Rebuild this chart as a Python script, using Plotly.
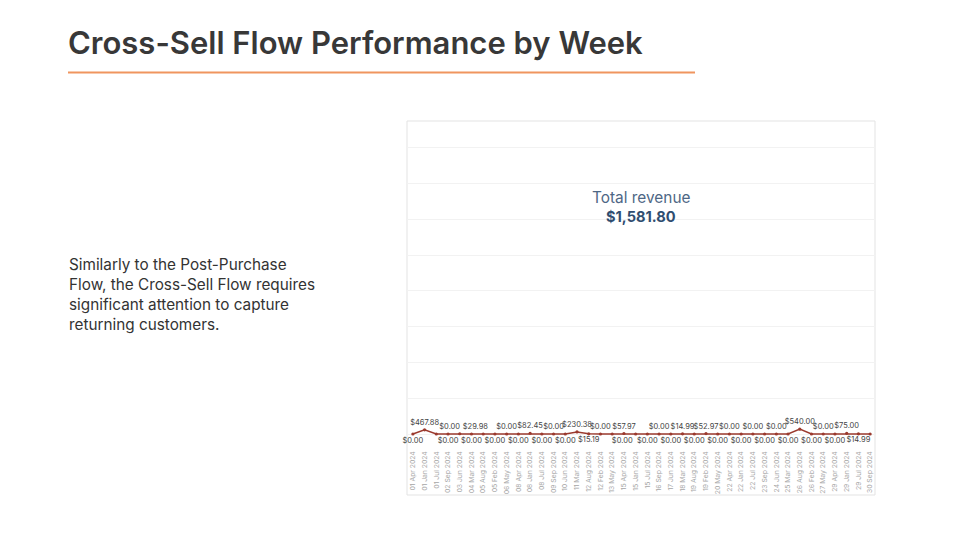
import plotly.graph_objects as go

# ---- data ----
weeks = ["01 Apr 2024", "01 Jan 2024", "01 Jul 2024", "02 Sep 2024", "03 Jun 2024",
         "04 Mar 2024", "05 Aug 2024", "05 Feb 2024", "06 May 2024", "08 Apr 2024",
         "08 Jan 2024", "08 Jul 2024", "09 Sep 2024", "10 Jun 2024", "11 Mar 2024",
         "12 Aug 2024", "12 Feb 2024", "13 May 2024", "15 Apr 2024", "15 Jan 2024",
         "15 Jul 2024", "16 Sep 2024", "17 Jun 2024", "18 Mar 2024", "19 Aug 2024",
         "19 Feb 2024", "20 May 2024", "22 Apr 2024", "22 Jan 2024", "22 Jul 2024",
         "23 Sep 2024", "24 Jun 2024", "25 Mar 2024", "26 Aug 2024", "26 Feb 2024",
         "27 May 2024", "29 Apr 2024", "29 Jan 2024", "29 Jul 2024", "30 Sep 2024"]
revenue = [0.00, 467.88, 0.00, 0.00, 29.98,
           0.00, 0.00, 0.00, 0.00, 0.00,
           82.45, 0.00, 0.00, 0.00, 230.38,
           15.19, 0.00, 0.00, 57.97, 0.00,
           0.00, 0.00, 0.00, 14.99, 0.00,
           52.97, 0.00, 0.00, 0.00, 0.00,
           0.00, 0.00, 0.00, 540.00, 0.00,
           0.00, 0.00, 75.00, 14.99, 0.00]
total_label = "Total revenue"
title_text = "Cross-Sell Flow Performance by Week"
body_text = ("Similarly to the Post-Purchase<br>Flow, the Cross-Sell Flow requires"
             "<br>significant attention to capture<br>returning customers.")

# ---- label placement (styling) ----
label_pos = ["bottom center", "top center", "top right", "bottom center", "top right",
             "bottom center", None, "bottom center", "top center", "bottom center",
             "top center", "bottom center", "top center", "bottom center", "top center",
             "bottom center", "top center", None, "top center", "bottom left"]
for i in range(20, 40):
    label_pos.append("bottom center" if i % 2 == 0 else "top center")
label_pos[39] = None

total = sum(revenue)
texts = [("" if p is None else f"${v:,.2f}") for v, p in zip(revenue, label_pos)]
positions = [("top center" if p is None else p) for p in label_pos]

# page has an 8px body margin: figure occupies window pixels 8..960, 8..540
OFF = 8
W, H = 960 - OFF, 540 - OFF
def px_x(x): return (x - OFF) / W
def px_y(y): return 1 - (y - OFF) / H

line_color = "#9b3a2e"

fig = go.Figure()
fig.add_trace(go.Scatter(
    x=weeks, y=revenue, mode="lines+markers+text",
    line=dict(color=line_color, width=1.5),
    marker=dict(color=line_color, size=3.2),
    text=texts, textposition=positions,
    textfont=dict(family="Inter, Noto Sans, sans-serif", size=7.5, color="#444444"),
    cliponaxis=False, hoverinfo="skip", showlegend=False,
))

plot_top, plot_bottom = 121, 446
zero_y = 434
grid_px = 35.8
dt = 4000
y_lo = -(plot_bottom - zero_y) / grid_px * dt
y_hi = (zero_y - plot_top) / grid_px * dt

fig.update_layout(
    width=W, height=H,
    margin=dict(l=0, r=0, t=0, b=0),
    paper_bgcolor="white", plot_bgcolor="white",
    xaxis=dict(domain=[px_x(407), px_x(876)], type="category",
               categoryorder="array", categoryarray=weeks,
               range=[-0.5, len(weeks) - 0.5],
               showgrid=False, zeroline=False, showline=False,
               ticks="", tickangle=-90, ticklabelstandoff=3,
               tickfont=dict(family="Inter, Noto Sans, sans-serif", size=6.8, color="#a6a6a6")),
    yaxis=dict(domain=[px_y(plot_bottom), px_y(plot_top)],
               range=[y_lo, y_hi], dtick=dt, tick0=0,
               showgrid=True, gridcolor="#f2f2f2", gridwidth=1,
               zeroline=False, showticklabels=False, ticks="", showline=False),
    font=dict(family="Inter, Noto Sans, sans-serif"),
)

# frame around chart panel
fig.add_shape(type="rect", xref="paper", yref="paper",
              x0=px_x(407), x1=px_x(875), y0=px_y(495), y1=px_y(121),
              line=dict(color="#e3e3e3", width=1), fillcolor="rgba(0,0,0,0)", layer="below")
# orange underline
fig.add_shape(type="line", xref="paper", yref="paper",
              x0=px_x(68), x1=px_x(695), y0=px_y(72.5), y1=px_y(72.5),
              line=dict(color="#f0955f", width=2))

fig.add_annotation(text=title_text, xref="paper", yref="paper",
                   x=px_x(66), y=px_y(42), xanchor="left", yanchor="middle",
                   showarrow=False,
                   font=dict(family="Inter", size=31, color="#383838", weight=600))
fig.add_annotation(text=body_text, xref="paper", yref="paper",
                   x=px_x(67), y=px_y(253), xanchor="left", yanchor="top", align="left",
                   showarrow=False,
                   font=dict(family="Inter", size=15.3, color="#333333"))
fig.add_annotation(text=total_label, xref="paper", yref="paper",
                   x=px_x(641), y=px_y(197), xanchor="center", yanchor="middle",
                   showarrow=False,
                   font=dict(family="Inter", size=15.4, color="#4e6785"))
fig.add_annotation(text=f"${total:,.2f}", xref="paper", yref="paper",
                   x=px_x(641), y=px_y(216.5), xanchor="center", yanchor="middle",
                   showarrow=False,
                   font=dict(family="Inter", size=14.6, color="#2f4d70", weight=700))

fig.write_html("out.html")
